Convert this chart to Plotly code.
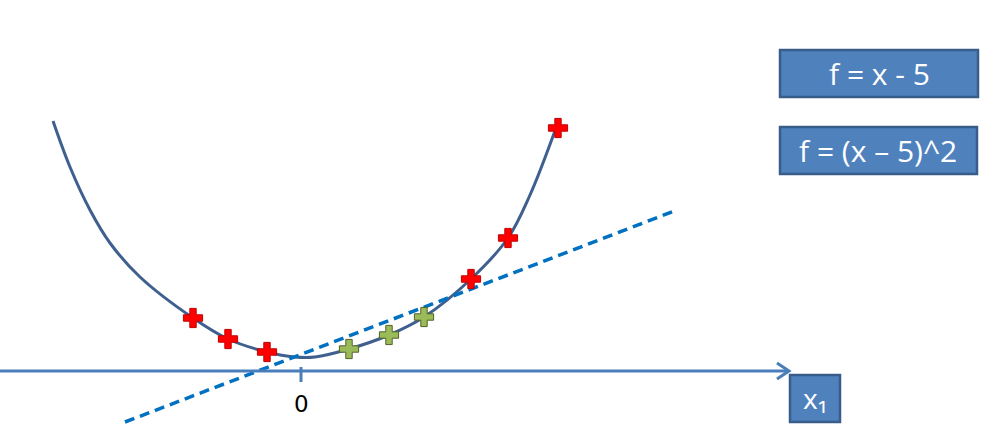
import plotly.graph_objects as go

# Data (x relative to the "0" tick, y upward from the x1 axis)
curve_x = [-248, -231, -211, -191, -161, -108, -73, -34, -6, 14, 48, 88, 123, 170, 207, 229, 255]
curve_y = [250, 204, 161, 128, 94, 53, 32, 19, 14, 14, 22, 36, 54, 92, 133, 176, 243]

red_x = [-108, -73, -34, 170, 207, 257]
red_y = [53, 32, 19, 92, 133, 243]

green_x = [48, 88, 123]
green_y = [22, 36, 54]

line_x = [-176, 376]
line_y = [-51, 161]

tick_labels = ["0"]
box_labels = ["f = x - 5", "f = (x \u2013 5)^2"]
axis_label = "x\u2081"

W, H = 997, 447
X0, Y0 = 301, 371  # pixel origin in the screenshot
def px(x): return x - X0
def py(y): return Y0 - y

fig = go.Figure()

fig.add_trace(go.Scatter(x=curve_x, y=curve_y, mode="lines", line=dict(color="#3F5F8F", width=3, shape="spline", smoothing=1.0), hoverinfo="skip"))
fig.add_trace(go.Scatter(x=line_x, y=line_y, mode="lines", line=dict(color="#0070C0", width=3.5, dash="10px,6px"), hoverinfo="skip"))
fig.add_trace(go.Scatter(x=red_x, y=red_y, mode="markers", marker=dict(symbol="cross", size=16, color="#FF0000", line=dict(color="#C00000", width=1))))
fig.add_trace(go.Scatter(x=green_x, y=green_y, mode="markers", marker=dict(symbol="cross", size=16, color="#9BBB59", line=dict(color="#4F6228", width=1))))

shapes = []
shapes.append(dict(type="line", x0=px(0), y0=0, x1=px(789), y1=0, line=dict(color="#4A7EBB", width=3)))
shapes.append(dict(type="path", path=f"M {px(777)},{py(363)} L {px(789)},{py(371)} L {px(777)},{py(379)}", line=dict(color="#4A7EBB", width=3)))
shapes.append(dict(type="line", x0=0, y0=py(367), x1=0, y1=py(382), line=dict(color="#4A7EBB", width=3)))
for (x0, y0, x1, y1) in [(780, 50, 978, 97), (780, 127, 977, 174), (790, 375, 840, 422)]:
    shapes.append(dict(type="rect", x0=px(x0), y0=py(y0), x1=px(x1), y1=py(y1), fillcolor="#4F81BD", line=dict(color="#385D8A", width=2.5)))

annotations = [
    dict(x=0, y=py(404), text=tick_labels[0], showarrow=False, font=dict(family="DejaVu Sans", size=23, color="#000000")),
    dict(x=px(879), y=py(73), text=box_labels[0], showarrow=False, font=dict(family="Open Sans", size=30, color="white")),
    dict(x=px(878), y=py(150), text=box_labels[1], showarrow=False, font=dict(family="Open Sans", size=30, color="white")),
    dict(x=px(815), y=py(398), text=axis_label, showarrow=False, font=dict(family="Open Sans", size=28, color="white")),
]

fig.update_layout(
    width=W, height=H, margin=dict(l=0, r=0, t=0, b=0),
    plot_bgcolor="white", paper_bgcolor="white", showlegend=False,
    xaxis=dict(range=[px(0), px(W)], visible=False, fixedrange=True),
    yaxis=dict(range=[py(H), py(0)], visible=False, fixedrange=True),
    shapes=shapes, annotations=annotations,
)

fig.write_html("out.html", config={"displayModeBar": False},
               post_script="document.body.style.margin='0';document.body.style.overflow='hidden';")
